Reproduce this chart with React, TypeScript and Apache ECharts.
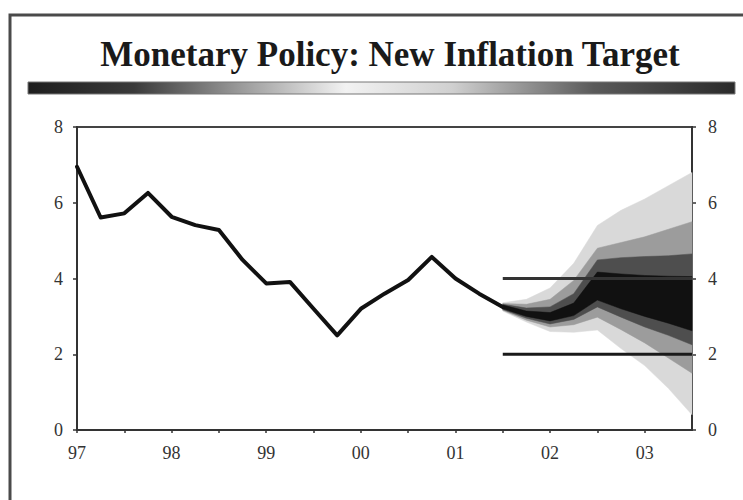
import React, { useEffect, useRef } from "react";
import * as echarts from "echarts";

// Historical inflation (quarterly, from 1997 Q1)
const histX = [1997, 1997.25, 1997.5, 1997.75, 1998, 1998.25, 1998.5, 1998.75, 1999, 1999.25, 1999.5, 1999.75, 2000, 2000.25, 2000.5, 2000.75, 2001, 2001.25, 2001.5];
const histY = [6.95, 5.61, 5.72, 6.26, 5.63, 5.41, 5.28, 4.49, 3.87, 3.91, 3.2, 2.5, 3.2, 3.6, 3.96, 4.57, 4.0, 3.6, 3.25];

// Fan chart (projection) bands
const fanX = [2001.5, 2001.75, 2002, 2002.25, 2002.5, 2002.75, 2003, 2003.25, 2003.5];
const coreLow = [3.2, 3.0, 2.88, 3.02, 3.43, 3.2, 3.0, 2.82, 2.62];
const coreHigh = [3.3, 3.14, 3.1, 3.35, 4.17, 4.12, 4.08, 4.06, 4.05];
const darkLow = [3.18, 2.95, 2.8, 2.92, 3.25, 2.98, 2.72, 2.5, 2.25];
const darkHigh = [3.32, 3.22, 3.25, 3.6, 4.49, 4.55, 4.58, 4.6, 4.65];
const midLow = [3.16, 2.9, 2.72, 2.78, 2.98, 2.65, 2.3, 1.9, 1.5];
const midHigh = [3.34, 3.32, 3.45, 3.95, 4.8, 4.95, 5.1, 5.3, 5.5];
const lightLow = [3.14, 2.85, 2.6, 2.58, 2.64, 2.15, 1.7, 1.1, 0.4];
const lightHigh = [3.36, 3.45, 3.75, 4.4, 5.4, 5.8, 6.1, 6.45, 6.8];

// Target range lines
const targetStart = 2001.5;
const targetEnd = 2003.5;
const targetLow = 2;
const targetHigh = 4;

const yearLabels = ["97", "98", "99", "00", "01", "02", "03"];
const firstYear = 1997;
const title = "Monetary Policy: New Inflation Target";

const FONT = "'Liberation Serif', 'DejaVu Serif', serif";

function bandSeries(name: string, low: number[], high: number[], color: string, z: number) {
  return {
    name,
    type: "custom",
    data: [[fanX[0], low[0]]],
    silent: true,
    z,
    renderItem: (_params: any, api: any) => {
      const upper = fanX.map((x, i) => api.coord([x, high[i]]));
      const lower = fanX.map((x, i) => api.coord([x, low[i]])).reverse();
      return {
        type: "polygon",
        shape: { points: upper.concat(lower) },
        style: { fill: color, stroke: color, lineWidth: 0.5 },
      };
    },
  };
}

export default function App() {
  const ref = useRef<HTMLDivElement>(null);
  useEffect(() => {
    if (!ref.current) return;
    const chart = echarts.init(ref.current, undefined, { renderer: "svg" });
    const yAxisCommon = {
      type: "value",
      min: 0,
      max: 8,
      interval: 2,
      splitLine: { show: false },
      axisLine: { show: true, lineStyle: { color: "#333", width: 2 } },
      axisTick: { show: true, length: 4, lineStyle: { color: "#333", width: 1.5 } },
      axisLabel: { color: "#333", fontFamily: FONT, fontSize: 18 },
    };
    chart.setOption({
      animation: false,
      backgroundColor: "#fff",
      grid: {
        left: 77,
        right: 51,
        top: 127,
        bottom: 70,
        show: true,
        borderColor: "#444",
        borderWidth: 2,
        backgroundColor: "transparent",
      },
      graphic: [
        {
          type: "polyline",
          shape: { points: [[10, 510], [10, 15], [760, 15]] },
          style: { stroke: "#4a4a4a", lineWidth: 3, fill: null },
          silent: true,
        },
        {
          type: "rect",
          shape: { x: 28, y: 82, width: 707, height: 12 },
          style: {
            fill: new echarts.graphic.LinearGradient(0, 0, 1, 0, [
              { offset: 0, color: "#1e1e1e" },
              { offset: 0.15, color: "#3a3a3a" },
              { offset: 0.3, color: "#9a9a9a" },
              { offset: 0.45, color: "#f2f2f2" },
              { offset: 0.6, color: "#d0d0d0" },
              { offset: 0.8, color: "#5a5a5a" },
              { offset: 1, color: "#2a2a2a" },
            ]),
            stroke: "#777",
            lineWidth: 1,
          },
          silent: true,
        },
        {
          type: "text",
          x: 390,
          y: 54,
          style: {
            text: title,
            fontFamily: FONT,
            fontWeight: "bold",
            fontSize: 35,
            fill: "#1a1a1a",
            align: "center",
            verticalAlign: "middle",
          },
          silent: true,
        },
      ],
      xAxis: {
        type: "value",
        min: 1997,
        max: 2003.5,
        interval: 0.5,
        splitLine: { show: false },
        axisLine: { show: true, lineStyle: { color: "#333", width: 2 } },
        axisTick: { show: true, length: 3, lineStyle: { color: "#333", width: 1.5 } },
        axisLabel: {
          color: "#333",
          fontFamily: FONT,
          fontSize: 18,
          margin: 14,
          showMaxLabel: false,
          formatter: (v: number) => {
            if (Math.abs(v - Math.round(v)) > 1e-6) return "";
            return yearLabels[Math.round(v) - firstYear] ?? "";
          },
        },
      },
      yAxis: [
        { ...yAxisCommon, position: "left", axisLabel: { ...yAxisCommon.axisLabel, margin: 14 } },
        { ...yAxisCommon, position: "right", axisLabel: { ...yAxisCommon.axisLabel, margin: 16 } },
      ],
      series: [
        bandSeries("light", lightLow, lightHigh, "#d9d9d9", 2),
        bandSeries("mid", midLow, midHigh, "#9c9c9c", 3),
        bandSeries("dark", darkLow, darkHigh, "#4e4e4e", 4),
        bandSeries("core", coreLow, coreHigh, "#111111", 5),
        {
          name: "inflation",
          type: "line",
          data: histX.map((x, i) => [x, histY[i]]),
          symbol: "none",
          lineStyle: { color: "#111", width: 4, join: "round", cap: "round" },
          z: 6,
        },
        {
          name: "target-high",
          type: "line",
          data: [[targetStart, targetHigh], [targetEnd, targetHigh]],
          symbol: "none",
          lineStyle: { color: "#333", width: 3 },
          z: 7,
        },
        {
          name: "target-low",
          type: "line",
          data: [[targetStart, targetLow], [targetEnd, targetLow]],
          symbol: "none",
          lineStyle: { color: "#1a1a1a", width: 3 },
          z: 7,
        },
      ],
    });
    return () => chart.dispose();
  }, []);
  return (
    <div
      ref={ref}
      style={{ position: "fixed", left: 0, top: 0, width: 743, height: 500, background: "#fff" }}
    />
  );
}
